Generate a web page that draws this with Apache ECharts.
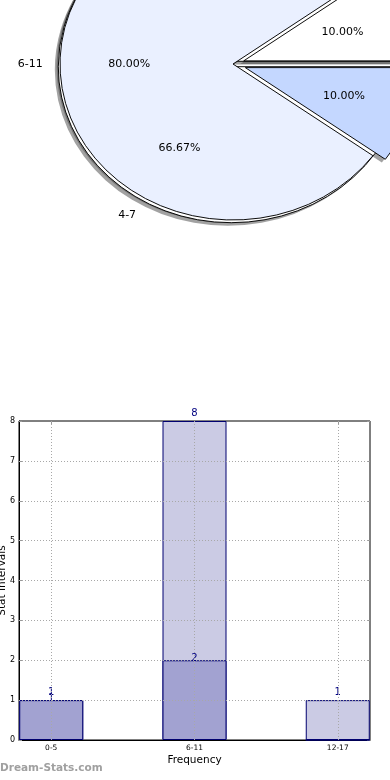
<!DOCTYPE html>
<html>
<head>
<meta charset="utf-8">
<script src="https://cdn.jsdelivr.net/npm/echarts@6/dist/echarts.min.js"></script>
<style>
html,body{margin:0;padding:0;background:#fff;}
#chart{width:390px;height:780px;}
</style>
</head>
<body>
<div id="chart"></div>
<script>
// ---------- data ----------
const pieLabels = ['0-5', '6-11', '12-17'];
const pieValues = [1, 8, 1];
const pie2Labels = ['0-3', '4-7'];
const pie2Values = [1, 2];

const barCategories = ['0-5', '6-11', '12-17'];
const barAllValues = [1, 8, 1];
const barSubValues = [1, 2, 0];
const yTickValues = [0, 1, 2, 3, 4, 5, 6, 7, 8];

// ---------- styles / layout ----------
const pieColors = ['#ffffff', '#eaf0ff', '#c4d7ff'];
const pie2Colors = ['#ffffff', '#ffffff'];
const pieExplode = [0.065, 0, 0.075];
const pie2Explode = [0.02, 0.02];
const PIE = { cx: 233, cy: 64, rx: 173, ry: 156 };
const FONT = '"DejaVu Sans", sans-serif';

function sliceAngles(values) {
  const total = values.reduce((a, b) => a + b, 0);
  let cum = 0;
  return values.map(v => {
    const a1 = cum / total * Math.PI * 2;
    cum += v;
    const a2 = cum / total * Math.PI * 2;
    return [a1, a2];
  });
}

function pieLayer(labels, values, colors, explode, layer, z) {
  const angles = sliceAngles(values);
  const total = values.reduce((a, b) => a + b, 0);
  return {
    type: 'custom',
    coordinateSystem: 'none',
    z: z,
    silent: true,
    animation: false,
    data: values.map((v, i) => ({ value: [v], name: labels[i] })),
    renderItem: function (params, api) {
      const i = params.dataIndex;
      const a1 = angles[i][0], a2 = angles[i][1];
      const mid = (a1 + a2) / 2;
      const ox = PIE.cx + explode[i] * PIE.rx * Math.cos(mid);
      const oy = PIE.cy - explode[i] * PIE.ry * Math.sin(mid);
      if (layer === 'text') {
        const pct = (values[i] / total * 100).toFixed(2) + '%';
        const px = ox + 0.6 * PIE.rx * Math.cos(mid);
        const py = oy - 0.6 * PIE.ry * Math.sin(mid);
        const lx = ox + 1.1 * PIE.rx * Math.cos(mid);
        const ly = oy - 1.1 * PIE.ry * Math.sin(mid);
        return {
          type: 'group',
          children: [
            { type: 'text', x: px, y: py, style: { text: pct, fill: '#000', font: '11px ' + FONT, align: 'center', verticalAlign: 'middle' } },
            { type: 'text', x: lx, y: ly, style: { text: labels[i], fill: '#000', font: '11px ' + FONT, align: Math.cos(mid) >= 0 ? 'left' : 'right', verticalAlign: 'middle' } }
          ]
        };
      }
      const isShadow = layer === 'shadow';
      return {
        type: 'sector',
        x: ox + (isShadow ? -0.02 * PIE.rx : 0),
        y: oy + (isShadow ? 0.02 * PIE.ry : 0),
        scaleX: 1,
        scaleY: PIE.ry / PIE.rx,
        shape: { cx: 0, cy: 0, r: PIE.rx, r0: 0, startAngle: -a2, endAngle: -a1, clockwise: true },
        style: isShadow
          ? { fill: 'rgba(70,70,70,0.5)' }
          : { fill: colors[i], stroke: '#000', lineWidth: 1, strokeNoScale: true }
      };
    }
  };
}

const chart = echarts.init(document.getElementById('chart'), null, { renderer: 'canvas' });

const gridLine = { type: [1, 2], color: '#a8a8a8', width: 1 };
const tickCustom = barCategories.map((c, i) => i);

const option = {
  animation: false,
  backgroundColor: '#fff',
  textStyle: { fontFamily: FONT },
  grid: {
    left: 19, right: 20, top: 421, bottom: 40,
    containLabel: false, outerBoundsMode: 'none',
    show: true, borderColor: '#000', borderWidth: 1, backgroundColor: 'transparent'
  },
  xAxis: [{
    type: 'value', min: -0.225, max: 2.225,
    axisLine: { show: true, onZero: false, lineStyle: { color: '#000', width: 1 } },
    axisTick: { show: true, inside: true, length: 3, customValues: tickCustom, lineStyle: { color: '#999' } },
    axisLabel: { customValues: tickCustom, formatter: v => barCategories[Math.round(v)] || '', fontSize: 7.5, color: '#000', margin: 4, fontFamily: FONT },
    splitLine: { show: false },
    name: 'Frequency', nameLocation: 'middle', nameGap: 15,
    nameTextStyle: { fontSize: 10.5, color: '#000', fontFamily: FONT }
  }, {
    type: 'value', position: 'top', min: -0.225, max: 2.225,
    axisLine: { show: false, onZero: false },
    axisTick: { show: true, inside: true, length: 3, customValues: tickCustom, lineStyle: { color: '#999' } },
    axisLabel: { show: false },
    splitLine: { show: false }
  }],
  yAxis: [{
    type: 'value', min: 0, max: 8, interval: 1,
    axisLine: { show: true, onZero: false, lineStyle: { color: '#000', width: 1 } },
    axisTick: { show: true, inside: true, length: 3, lineStyle: { color: '#999' } },
    axisLabel: { fontSize: 8, color: '#000', margin: 4, fontFamily: FONT },
    splitLine: { show: false },
    name: 'Stat Intervals', nameLocation: 'middle', nameGap: 11, nameRotate: 90,
    nameMoveOverlap: false, nameTruncate: { maxWidth: null },
    nameTextStyle: { fontSize: 10.5, color: '#000', fontFamily: FONT, overflow: 'none' }
  }, {
    type: 'value', position: 'right', min: 0, max: 8, interval: 1,
    axisLine: { show: false, onZero: false },
    axisTick: { show: true, inside: true, length: 3, lineStyle: { color: '#999' } },
    axisLabel: { show: false },
    splitLine: { show: false }
  }],
  graphic: [{
    type: 'text', left: 0, top: 763, silent: true,
    style: { text: 'Dream-Stats.com', fill: '#a0a0a0', font: 'bold 10.5px ' + FONT }
  }],
  series: [
    pieLayer(pie2Labels, pie2Values, pie2Colors, pie2Explode, 'shadow', 1),
    pieLayer(pieLabels, pieValues, pieColors, pieExplode, 'shadow', 1.1),
    pieLayer(pie2Labels, pie2Values, pie2Colors, pie2Explode, 'wedge', 1.2),
    pieLayer(pieLabels, pieValues, pieColors, pieExplode, 'wedge', 1.3),
    pieLayer(pie2Labels, pie2Values, pie2Colors, pie2Explode, 'text', 1.4),
    pieLayer(pieLabels, pieValues, pieColors, pieExplode, 'text', 1.5),
    {
      type: 'bar', xAxisIndex: 0, yAxisIndex: 0,
      data: barAllValues.map((v, i) => [i, v]),
      barWidth: 64, barGap: '-100%',
      itemStyle: { color: '#cbcbe4', borderColor: '#000070', borderWidth: 1 },
      label: { show: true, position: 'top', distance: 3, color: '#000080', fontSize: 10, fontFamily: FONT, formatter: p => p.value[1] ? String(p.value[1]) : '' },
      z: 2
    },
    {
      type: 'bar', xAxisIndex: 0, yAxisIndex: 0,
      data: barSubValues.map((v, i) => [i, v]),
      barWidth: 64, barGap: '-100%',
      itemStyle: { color: '#a2a2d1', borderColor: '#000070', borderWidth: 1 },
      label: { show: true, position: 'top', distance: -3, color: '#000080', fontSize: 10, fontFamily: FONT, formatter: p => p.value[1] ? String(p.value[1]) : '' },
      markLine: {
        silent: true, symbol: ['none', 'none'], animation: false,
        label: { show: false },
        lineStyle: gridLine,
        data: yTickValues.filter(v => v > 0 && v < 8).map(v => ({ yAxis: v }))
          .concat(barCategories.map((c, i) => ({ xAxis: i })))
      },
      z: 3
    }
  ]
};
chart.setOption(option);
</script>
</body>
</html>
